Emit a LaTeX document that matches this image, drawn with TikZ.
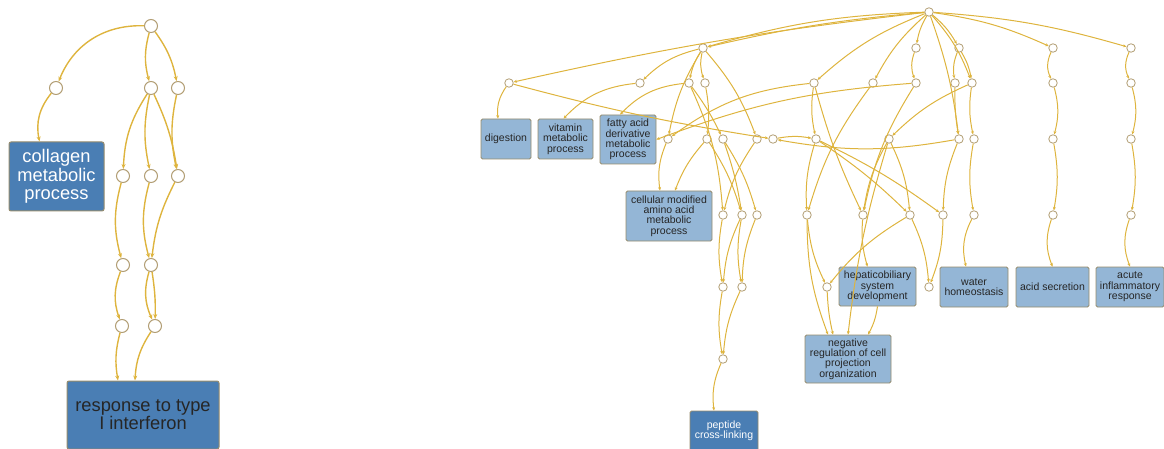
\documentclass[tikz,border=0pt]{standalone}
\usepackage{fontspec}
\setmainfont{Liberation Sans}
\usetikzlibrary{arrows.meta}

\definecolor{edgecol}{RGB}{222,180,62}
\definecolor{ringcol}{RGB}{178,158,116}
\definecolor{darkbox}{RGB}{74,126,180}
\definecolor{lightbox}{RGB}{148,182,214}
\definecolor{boxline}{RGB}{150,140,108}

\tikzset{
  bigdot/.style={circle,draw=ringcol,fill=white,line width=1pt,inner sep=0pt,minimum size=13pt},
  dot/.style={circle,draw=ringcol,fill=white,line width=0.8pt,inner sep=0pt,minimum size=8.5pt},
  bigterm/.style={draw=boxline,line width=1pt,rounded corners=2pt,fill=darkbox,align=center,
    font=\fontsize{18.3}{18.3}\selectfont,inner sep=1pt},
  term/.style={draw=boxline,line width=0.8pt,rounded corners=1.5pt,fill=lightbox,align=center,
    font=\fontsize{10.5}{10.4}\selectfont,text=black!85,inner sep=1pt},
  edge/.style={draw=edgecol,line width=1pt,-{Stealth[length=3.5pt,width=3pt]}},
  bigedge/.style={draw=edgecol,line width=1.4pt,-{Stealth[length=5pt,width=4pt]}},
}

\begin{document}
\begin{tikzpicture}[x=1pt,y=1pt,yscale=-1,xscale=1]
\useasboundingbox (0,0) rectangle (1164,449);

% left graph
\node[bigdot] (l0) at (151,26) {};
\node[bigdot] (l1) at (56,88) {};
\node[bigdot] (l2) at (151,88) {};
\node[bigdot] (l3) at (178,88) {};
\node[bigdot] (l4) at (123,176) {};
\node[bigdot] (l5) at (151,176) {};
\node[bigdot] (l6) at (178,176) {};
\node[bigdot] (l7) at (123,265) {};
\node[bigdot] (l8) at (151,265) {};
\node[bigdot] (l9) at (122,326) {};
\node[bigdot] (l10) at (155,326) {};
\node[bigterm,text=white,minimum width=95pt,minimum height=69pt] (collagen) at (56.5,176.5) {collagen\\metabolic\\process};
\node[bigterm,text=black!85,minimum width=152pt,minimum height=68pt] (response) at (143,415) {response to type\\I interferon};

\draw[bigedge] (l0) to[bend left=35] (l1);
\draw[bigedge] (l1) to[bend left=25] ([xshift=-17pt]collagen.north);
\draw[bigedge] (l0) to[bend left=15] (l2);
\draw[bigedge] (l0) to[bend right=12] (l3);
\draw[bigedge] (l2) to[bend left=15] (l4);
\draw[bigedge] (l2) to[bend left=12] (l5);
\draw[bigedge] (l2) to[bend right=8] (l6);
\draw[bigedge] (l3) to[bend left=12] (l6);
\draw[bigedge] (l4) to[bend left=15] (l7);
\draw[bigedge] (l5) to[bend left=15] (l8);
\draw[bigedge] (l6) to[bend left=10] (l8);
\draw[bigedge] (l7) to[bend left=20] (l9);
\draw[bigedge] (l8) to[bend left=20] (l10);
\draw[bigedge] (l8) to[bend right=5] (l10);
\draw[bigedge] (l9) to[bend left=12] ([xshift=-25pt]response.north);
\draw[bigedge] (l10) to[bend left=15] ([xshift=-8pt]response.north);

% right graph
\node[dot] (r) at (929,12) {};
\node[dot] (a1) at (703,48) {};
\node[dot] (a2) at (916,48) {};
\node[dot] (a3) at (959,48) {};
\node[dot] (a4) at (1053,48) {};
\node[dot] (a5) at (1131,48) {};
\node[dot] (b1) at (509,83) {};
\node[dot] (b2) at (640,83) {};
\node[dot] (b3) at (689,83) {};
\node[dot] (b4) at (705,83) {};
\node[dot] (b5) at (814,83) {};
\node[dot] (b6) at (873,83) {};
\node[dot] (b7) at (916,83) {};
\node[dot] (b8) at (955,83) {};
\node[dot] (b9) at (972,83) {};
\node[dot] (b10) at (1053,83) {};
\node[dot] (b11) at (1131,83) {};
\node[dot] (c1) at (668,139) {};
\node[dot] (c2) at (707,139) {};
\node[dot] (c3) at (723,139) {};
\node[dot] (c4) at (757,139) {};
\node[dot] (c5) at (773,139) {};
\node[dot] (c6) at (816,139) {};
\node[dot] (c7) at (889,139) {};
\node[dot] (c8) at (959,139) {};
\node[dot] (c9) at (974,139) {};
\node[dot] (c10) at (1053,139) {};
\node[dot] (c11) at (1131,139) {};
\node[dot] (d1) at (723,215) {};
\node[dot] (d2) at (742,215) {};
\node[dot] (d3) at (757,215) {};
\node[dot] (d4) at (807,215) {};
\node[dot] (d5) at (863,215) {};
\node[dot] (d6) at (910,215) {};
\node[dot] (d7) at (943,215) {};
\node[dot] (d8) at (974,215) {};
\node[dot] (d9) at (1053,215) {};
\node[dot] (d10) at (1131,215) {};
\node[dot] (e1) at (723,287) {};
\node[dot] (e2) at (742,287) {};
\node[dot] (e3) at (827,287) {};
\node[dot] (e4) at (929,287) {};
\node[dot] (f1) at (723,359) {};

\node[term,minimum width=50pt,minimum height=40pt] (digestion) at (506,139) {digestion};
\node[term,minimum width=55pt,minimum height=40pt] (vitamin) at (565.5,139) {vitamin\\metabolic\\process};
\node[term,minimum width=56pt,minimum height=49pt] (fatty) at (628,139.5) {fatty acid\\derivative\\metabolic\\process};
\node[term,minimum width=86pt,minimum height=50pt] (cellular) at (669,216) {cellular modified\\amino acid\\metabolic\\process};
\node[term,minimum width=77pt,minimum height=39pt] (hepatic) at (877.5,286.5) {hepaticobiliary\\system\\development};
\node[term,minimum width=68pt,minimum height=40pt] (water) at (974,287) {water\\homeostasis};
\node[term,minimum width=73pt,minimum height=40pt] (acid) at (1052.5,287) {acid secretion};
\node[term,minimum width=68pt,minimum height=40pt] (acute) at (1130,287) {acute\\inflammatory\\response};
\node[term,minimum width=86pt,minimum height=48pt] (negative) at (848,359) {negative\\regulation of cell\\projection\\organization};
\node[term,fill=darkbox,text=white,minimum width=68pt,minimum height=40pt] (peptide) at (724,431) {peptide\\cross-linking};

\draw[edge] (r) to[bend left=4] (a1);
\draw[edge] (r) to[bend left=7] (a1);
\draw[edge] (r) to[bend left=3] (b1);
\draw[edge] (r) to[bend left=10] (a2);
\draw[edge] (r) to[bend right=10] (a3);
\draw[edge] (r) to[bend right=8] (a4);
\draw[edge] (r) to[bend right=6] (a5);
\draw[edge] (r) to[bend left=10] (b5);
\draw[edge] (r) to[bend left=10] (b6);
\draw[edge] (r) to[bend right=6] (c8);
\draw[edge] (r) to[bend right=10] (b9);
\draw[edge] (a1) to[bend left=15] (b2);
\draw[edge] (a1) to[bend left=10] (b3);
\draw[edge] (a1) to[bend left=15] (b4);
\draw[edge] (a1) to[bend left=10] (c1);
\draw[edge] (a1) to[bend right=10] (c4);
\draw[edge] (b1) to[bend left=20] ([xshift=-8pt]digestion.north);
\draw[edge] (b1) to[bend left=3] (c5);
\draw[edge] (b2) to[bend left=20] ([xshift=-2pt]vitamin.north);
\draw[edge] (b3) to[bend left=20] ([xshift=-8pt]fatty.north);
\draw[edge] (b3) to[bend right=10] (d1);
\draw[edge] (b3) to[bend right=5] (c3);
\draw[edge] (b4) to[bend right=8] (c2);
\draw[edge] (b5) to[bend left=15] (c1);
\draw[edge] (b5) to[bend left=10] (c6);
\draw[edge] (b7) to[bend left=8] (fatty.east);
\draw[edge] (a2) to[bend left=20] (b7);
\draw[edge] (a3) to[bend left=15] (b8);
\draw[edge] (a3) to[bend right=10] (b9);
\draw[edge] (b6) to[bend left=10] (d4);
\draw[edge] (b7) to[bend left=10] (d5);
\draw[edge] (b9) to[bend left=10] (c7);
\draw[edge] (b9) to[bend left=10] (c9);
\draw[edge] (b8) to[bend left=5] (c8);
\draw[edge] (c1) to[bend left=15] ([xshift=-9pt]cellular.north);
\draw[edge] (c2) to[bend left=10] ([xshift=6pt]cellular.north);
\draw[edge] (c2) to[bend right=8] (d2);
\draw[edge] (c3) to[bend right=5] (d2);
\draw[edge] (c3) to[bend right=8] (d3);
\draw[edge] (c4) to[bend left=10] (d1);
\draw[edge] (c5) to[bend right=10] (c6);
\draw[edge] (c6) to[bend left=10] (d4);
\draw[edge] (c6) to[bend right=5] (d6);
\draw[edge] (c6) to[bend right=5] (d7);
\draw[edge] (c7) to[bend left=10] (d5);
\draw[edge] (c7) to[bend right=10] (d6);
\draw[edge] (c7) to[bend left=5] (negative.north);
\draw[edge] (c8) to[bend left=10] (d7);
\draw[edge] (c8) to[bend right=10] (c5);
\draw[edge] (c9) to[bend left=10] (d8);
\draw[edge] (b5) to[bend left=5] (d5);
\draw[edge] (d1) to[bend left=10] (e1);
\draw[edge] (d2) to[bend left=10] (e1);
\draw[edge] (d2) to[bend left=10] (e2);
\draw[edge] (d3) to[bend left=10] (e2);
\draw[edge] (e1) to[bend left=10] (f1);
\draw[edge] (e2) to[bend left=10] (f1);
\draw[edge] (f1) to[bend left=15] ([xshift=-10pt]peptide.north);
\draw[edge] (d4) to[bend left=10] (e3);
\draw[edge] (d4) to[bend left=10] ([xshift=-20pt]negative.north);
\draw[edge] (d5) to[bend left=10] ([xshift=-10pt]hepatic.north);
\draw[edge] (d6) to[bend left=10] (e3);
\draw[edge] (d6) to[bend right=10] (e4);
\draw[edge] (d7) to[bend right=10] (e4);
\draw[edge] (e3) to[bend left=5] ([xshift=-15pt]negative.north);
\draw[edge] (hepatic.south) to[bend right=10] ([xshift=20pt]negative.north);
\draw[edge] (d8) to[bend left=20] ([xshift=-8pt]water.north);
\draw[edge] (a4) to[bend left=25] (b10);
\draw[edge] (b10) to[bend right=15] (c10);
\draw[edge] (c10) to[bend right=10] (d9);
\draw[edge] (d9) to[bend left=20] (acid.north);
\draw[edge] (a5) to[bend left=25] (b11);
\draw[edge] (b11) to[bend right=15] (c11);
\draw[edge] (c11) to[bend right=10] (d10);
\draw[edge] (d10) to[bend left=20] (acute.north);
\end{tikzpicture}
\end{document}
